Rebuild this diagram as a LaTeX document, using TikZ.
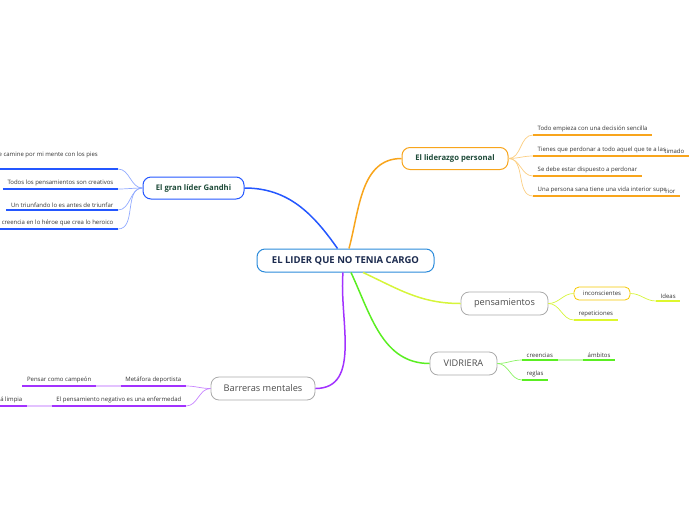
\documentclass[tikz,border=0pt]{standalone}
\usepackage{fontspec}
\setmainfont{Open Sans}
\usetikzlibrary{positioning}

\definecolor{rootblue}{HTML}{2B8BDB}
\definecolor{navy}{HTML}{1B2A4E}
\definecolor{deepgreen}{HTML}{1D4A38}
\definecolor{gblue}{HTML}{2457FF}
\definecolor{lorange}{HTML}{F8A51C}
\definecolor{lime}{HTML}{D6F53A}
\definecolor{gold}{HTML}{F5C800}
\definecolor{vgreen}{HTML}{5AEE22}
\definecolor{bpurple}{HTML}{A232FF}
\definecolor{nodegray}{HTML}{AAAAAA}

\begin{document}
\begin{tikzpicture}[
  x=1pt, y=-1pt,
  root/.style     = {draw=rootblue, line width=1pt, rounded corners=8pt,
                     fill=white, minimum width=177pt, minimum height=23pt,
                     font=\fontsize{9.5}{10}\selectfont\bfseries, text=navy},
  main/.style     = {line width=1pt, rounded corners=8pt, fill=white,
                     minimum height=22pt,
                     font=\fontsize{7.7}{8}\selectfont\bfseries, text=deepgreen},
  topic/.style    = {draw=nodegray, line width=0.8pt, rounded corners=8pt,
                     fill=white, minimum height=23pt,
                     font=\fontsize{9.2}{10}\selectfont, text=black!70},
  subtopic/.style = {draw=gold, line width=0.8pt, rounded corners=5pt,
                     fill=white, minimum width=56pt, minimum height=13pt,
                     font=\fontsize{6}{6}\selectfont, text=black!80},
  leaf/.style     = {inner xsep=4.5pt, inner ysep=2.5pt,
                     font=\fontsize{6}{6}\selectfont, text=black!80},
  uline/.style    = {line width=1.6pt},
  branch/.style   = {line width=1.5pt},
  twig/.style     = {line width=0.7pt},
]
\useasboundingbox (0,0) rectangle (696,520);
\clip (0,0) rectangle (696,520);

% =============================================================
% Central topic and main topics
% =============================================================
\node[root] (root) at (345.5,260.5) {EL LIDER QUE NO TENIA CARGO};

\node[main, draw=gblue, minimum width=101pt] (gandhi) at (193.5,188)
  {El gran líder Gandhi};
\node[main, draw=lorange, minimum width=106pt] (liderazgo) at (455,158.5)
  {El liderazgo personal};
\node[topic, minimum width=87pt]  (pens)     at (504.5,303.5) {pensamientos};
\node[topic, minimum width=67pt]  (vidriera) at (463.5,363.5) {VIDRIERA};
\node[topic, minimum width=104pt] (barreras) at (263,388.5)   {Barreras mentales};

% =============================================================
% Leaves: El gran lider Gandhi (left side)
% =============================================================
\node[leaf, anchor=south east] (g1) at (118,169)
  {\raisebox{9.5pt}{e camine por mi mente con los pies}\hspace*{15.5pt}};
\node[leaf, anchor=south east] (g2) at (118,189) {Todos los pensamientos son creativos};
\node[leaf, anchor=south east] (g3) at (118,210) {Un triunfando lo es antes de triunfar};
\node[leaf, anchor=south east] (g4) at (118,229) {creencia en lo héroe que crea lo heroico};

% =============================================================
% Leaves: El liderazgo personal (right side)
% =============================================================
\node[leaf, anchor=south west] (l1) at (533,135) {Todo empieza con una decisión sencilla};
\node[leaf, anchor=south west] (l2) at (533,156)
  {Tienes que perdonar a todo aquel que te a las\hspace{-1.5pt}\raisebox{-1.5pt}{timado}};
\node[leaf, anchor=south west] (l3) at (533,176) {Se debe estar dispuesto a perdonar};
\node[leaf, anchor=south west] (l4) at (533,196)
  {Una persona sana tiene una vida interior supe\hspace{-1.5pt}\raisebox{-1.5pt}{rior}};

% =============================================================
% pensamientos / VIDRIERA / Barreras mentales
% =============================================================
\node[subtopic] (incons) at (602,293.5) {inconscientes};
\node[leaf, anchor=south west] (ideas) at (656,301) {Ideas};
\node[leaf, anchor=south west] (rep)   at (574,320) {repeticiones};

\node[leaf, anchor=south west] (cre) at (522,360) {creencias};
\node[leaf, anchor=south west] (amb) at (583,360) {ámbitos};
\node[leaf, anchor=south west] (reg) at (522,380) {reglas};

\node[leaf, anchor=south east] (met)  at (186,386) {Metáfora deportista};
\node[leaf, anchor=south east] (pen)  at (96,386)  {Pensar como campeón};
\node[leaf, anchor=south east] (neg)  at (186,406) {El pensamiento negativo es una enfermedad};
\node[leaf, anchor=south east] (limp) at (27,406)  {á limpia};

% =============================================================
% Main branches
% =============================================================
\draw[branch, gblue]   ([xshift=-8pt]root.north)   to[out=125, in=0]   (gandhi.east);
\draw[branch, lorange] ([xshift=3.5pt]root.north)  to[out=75,  in=180] (liderazgo.west);
\draw[branch, lime]    ([xshift=17.5pt]root.south) to[out=-25, in=180] (pens.west);
\draw[branch, vgreen]  ([xshift=5.5pt]root.south)  to[out=-65, in=180] (vidriera.west);
\draw[branch, bpurple] ([xshift=-2.5pt]root.south) to[out=-95, in=0]   (barreras.east);

% =============================================================
% Twigs and underlines
% =============================================================
\draw[twig, gblue!50] (gandhi.west) to[out=180, in=0] (g1.south east);
\draw[twig, gblue!50] (gandhi.west) to[out=180, in=0] (g2.south east);
\draw[twig, gblue!50] (gandhi.west) to[out=180, in=0] (g3.south east);
\draw[twig, gblue!50] (gandhi.west) to[out=180, in=0] (g4.south east);
\draw[uline, gblue] (g1.south west) -- (g1.south east);
\draw[uline, gblue] (g2.south west) -- (g2.south east);
\draw[uline, gblue] (g3.south west) -- (g3.south east);
\draw[uline, gblue] (g4.south west) -- (g4.south east);

\draw[twig, lorange!55] (liderazgo.east) to[out=0, in=180] (l1.south west);
\draw[twig, lorange!55] (liderazgo.east) to[out=0, in=180] (l2.south west);
\draw[twig, lorange!55] (liderazgo.east) to[out=0, in=180] (l3.south west);
\draw[twig, lorange!55] (liderazgo.east) to[out=0, in=180] (l4.south west);
\draw[uline, lorange] (l1.south west) -- (l1.south east);
\draw[uline, lorange] (l2.south west) -- (l2.south east);
\draw[uline, lorange] (l3.south west) -- (l3.south east);
\draw[uline, lorange] (l4.south west) -- (l4.south east);

\draw[twig, lime] (pens.east)   to[out=0, in=180] (incons.west);
\draw[twig, lime] (pens.east)   to[out=0, in=180] (rep.south west);
\draw[twig, lime] (incons.east) to[out=0, in=180] (ideas.south west);
\draw[uline, lime!80!yellow] (ideas.south west) -- (ideas.south east);
\draw[uline, lime!80!yellow] (rep.south west) -- (rep.south east);

\draw[twig, vgreen!70] (vidriera.east) to[out=0, in=180] (cre.south west);
\draw[twig, vgreen!70] (vidriera.east) to[out=0, in=180] (reg.south west);
\draw[uline, vgreen!35] (cre.south east) -- (amb.south west);
\draw[uline, vgreen] (cre.south west) -- (cre.south east);
\draw[uline, vgreen] (amb.south west) -- (amb.south east);
\draw[uline, vgreen] (reg.south west) -- (reg.south east);

\draw[twig, bpurple!60] (barreras.west) to[out=180, in=0] (met.south east);
\draw[twig, bpurple!60] (barreras.west) to[out=180, in=0] (neg.south east);
\draw[uline, bpurple!30] (met.south west) -- (pen.south east);
\draw[uline, bpurple!30] (neg.south west) -- (limp.south east);
\draw[uline, bpurple] (met.south west)  -- (met.south east);
\draw[uline, bpurple] (pen.south west)  -- (pen.south east);
\draw[uline, bpurple] (neg.south west)  -- (neg.south east);
\draw[uline, bpurple] (limp.south west) -- (limp.south east);

\end{tikzpicture}
\end{document}
